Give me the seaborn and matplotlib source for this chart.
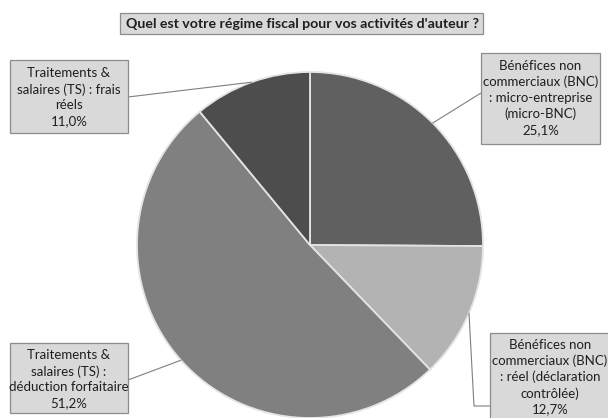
import numpy as np
import matplotlib
matplotlib.use("Agg")
import matplotlib.pyplot as plt
import seaborn as sns
from matplotlib.patches import Rectangle

# data
categories = ["Bénéfices non\ncommerciaux (BNC)\n: micro-entreprise\n(micro-BNC)",
              "Bénéfices non\ncommerciaux (BNC)\n: réel (déclaration\ncontrôlée)",
              "Traitements &\nsalaires (TS) :\ndéduction forfaitaire",
              "Traitements &\nsalaires (TS) : frais\nréels"]
values = [25.1, 12.7, 51.2, 11.0]
colors = ["#606060", "#b3b3b3", "#808080", "#4d4d4d"]
title = "Quel est votre régime fiscal pour vos activités d'auteur ?"

sns.set_theme(style="white")
plt.rcParams['font.family'] = ['Lato', 'DejaVu Sans']

W, H = 608, 418
fig = plt.figure(figsize=(W / 100, H / 100), dpi=100)
ax = fig.add_axes([0, 0, 1, 1])

cx, cy, r = 310, H - 245, 173
wedges, _ = ax.pie(values, colors=colors, startangle=90, counterclock=False,
                   center=(cx, cy), radius=r, frame=True,
                   wedgeprops=dict(edgecolor="#e4e4e4", linewidth=1.3))
ax.set_xlim(0, W)
ax.set_ylim(0, H)
ax.set_aspect('equal')
ax.axis('off')

# label boxes: (left, top, right, bottom) in pixels, text centre y, leader path
boxes = [
    ((481, 53, 600, 144), 98, [(481, 93)]),
    ((490, 333, 614, 440), 377, [(474, 406), (490, 406)]),
    ((10, 343, 128, 413), 379, [(128, 380)]),
    ((10, 60, 128, 133), 97, [(128, 97)]),
]

box_fc = "#d9d9d9"
box_ec = "#8c8c8c"
for w, cat, v, (rect, tyc, path) in zip(wedges, categories, values, boxes):
    mid = np.deg2rad((w.theta1 + w.theta2) / 2)
    x0, y0 = cx + r * np.cos(mid), cy + r * np.sin(mid)
    xs = [x0] + [p[0] for p in path]
    ys = [y0] + [H - p[1] for p in path]
    ax.plot(xs, ys, color="#7f7f7f", lw=0.8, zorder=3)
    l, t, rr, b = rect
    ax.add_patch(Rectangle((l, H - b), rr - l, b - t, facecolor=box_fc,
                           edgecolor=box_ec, lw=0.9, zorder=4, clip_on=False))
    pct = f"{v:.1f}".replace('.', ',') + "%"
    ax.text((l + min(rr, 600)) / 2 + (5 if b > H else 0), H - tyc, cat + "\n" + pct,
            ha='center', va='center', fontsize=9.5, linespacing=1.36,
            color="#1f1f1f", zorder=5)

# title box
ax.add_patch(Rectangle((120, H - 34), 363, 21, facecolor=box_fc,
                       edgecolor=box_ec, lw=0.9, zorder=4))
ax.text(302, H - 23.5, title, ha='center', va='center', fontsize=10.2,
        fontweight='bold', color="#1f1f1f", zorder=5)

fig.savefig("out.png", dpi=100, facecolor="white")
